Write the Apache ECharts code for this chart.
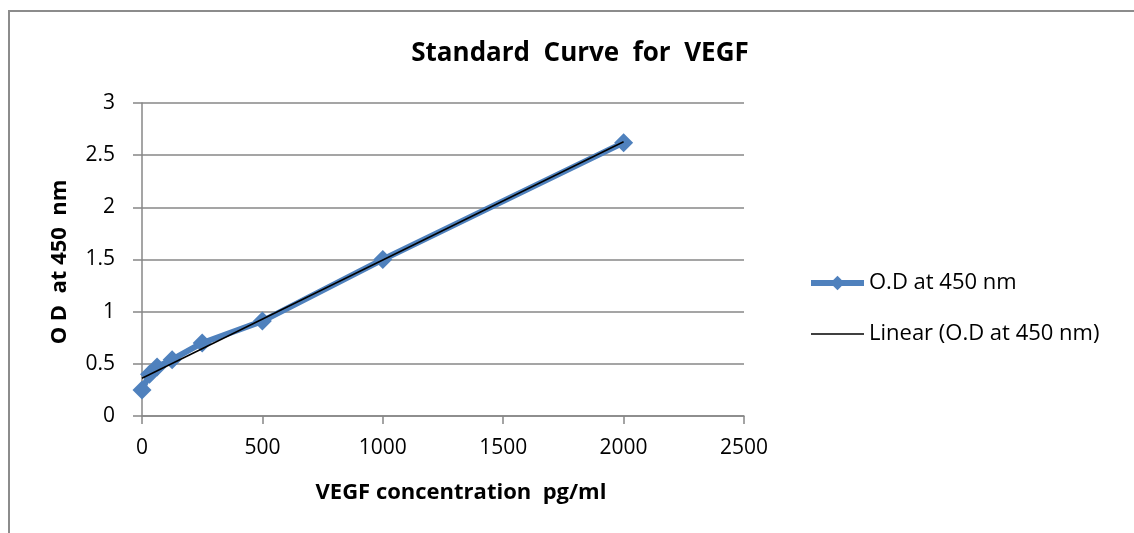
<!DOCTYPE html>
<html>
<head>
<meta charset="utf-8">
<script src="https://cdn.jsdelivr.net/npm/echarts@6/dist/echarts.min.js"></script>
<style>
  html, body { margin: 0; padding: 0; background: #fff; }
  #chart { width: 1134px; height: 533px; }
</style>
</head>
<body>
<div id="chart"></div>
<script>
// Standard concentrations (pg/ml) and measured optical density at 450 nm
const concentrations = [0, 31.25, 62.5, 125, 250, 500, 1000, 2000];
const odValues = [0.25, 0.40, 0.47, 0.54, 0.70, 0.91, 1.50, 2.62];

const chartTitle = 'Standard  Curve  for  VEGF';
const xTitle = 'VEGF concentration  pg/ml';
const yTitle = 'O D  at 450  nm';
const seriesName = 'O.D at 450 nm';
const trendName = 'Linear (O.D at 450 nm)';

// Least-squares fit for the linear trendline
function linearFit(xs, ys) {
  const n = xs.length;
  const mx = xs.reduce((a, b) => a + b, 0) / n;
  const my = ys.reduce((a, b) => a + b, 0) / n;
  let sxy = 0, sxx = 0;
  for (let i = 0; i < n; i++) {
    sxy += (xs[i] - mx) * (ys[i] - my);
    sxx += (xs[i] - mx) * (xs[i] - mx);
  }
  const slope = sxy / sxx;
  return { slope, intercept: my - slope * mx };
}
const fit = linearFit(concentrations, odValues);
const xMin = Math.min(...concentrations);
const xMax = Math.max(...concentrations);
const trendData = [xMin, xMax].map(x => [x, fit.intercept + fit.slope * x]);

const FONT = '"Open Sans", "Liberation Sans", sans-serif';
const GRID_COLOR = '#878787';
const BLUE = '#4F81BD';
const SERIES_WIDTH = 6;

const chart = echarts.init(document.getElementById('chart'), null, { renderer: 'canvas' });
chart.setOption({
  animation: false,
  backgroundColor: '#fff',
  textStyle: { fontFamily: FONT },
  title: {
    text: chartTitle,
    left: 575,
    top: 36,
    textAlign: 'center',
    textStyle: { fontFamily: FONT, fontSize: 26, fontWeight: 'bold', color: '#000' }
  },
  grid: { left: 142, top: 103, width: 602, height: 313 },
  legend: {
    orient: 'vertical',
    left: 803,
    top: 267,
    itemWidth: 53,
    itemHeight: 18,
    itemGap: 29,
    textStyle: { fontFamily: FONT, fontSize: 22, color: '#000' },
    data: [
      { name: seriesName, lineStyle: { width: SERIES_WIDTH, color: BLUE } },
      { name: trendName, itemStyle: { opacity: 0 }, lineStyle: { width: 1.5, color: '#000' } }
    ]
  },
  xAxis: {
    type: 'value',
    min: 0,
    max: 2500,
    interval: 500,
    axisLine: { show: true, lineStyle: { color: GRID_COLOR, width: 1.5 } },
    axisTick: { show: true, length: 8, lineStyle: { color: GRID_COLOR, width: 1.5 } },
    axisLabel: { margin: 22, fontSize: 21, color: '#000', fontFamily: FONT, formatter: v => String(v) },
    splitLine: { show: false }
  },
  yAxis: {
    type: 'value',
    min: 0,
    max: 3,
    interval: 0.5,
    axisLine: { show: true, lineStyle: { color: GRID_COLOR, width: 1.5 } },
    axisTick: { show: true, length: 9, lineStyle: { color: GRID_COLOR, width: 1.5 } },
    axisLabel: { margin: 27, fontSize: 21, color: '#000', fontFamily: FONT, formatter: v => String(v) },
    splitLine: { show: true, lineStyle: { color: GRID_COLOR, width: 1.5 } }
  },
  graphic: [
    {
      type: 'rect',
      silent: true,
      shape: { x: 9, y: 11, width: 1300, height: 700 },
      style: { fill: 'none', stroke: '#8c8c8c', lineWidth: 2 }
    },
    {
      type: 'text',
      silent: true,
      x: 461,
      y: 493,
      style: {
        text: xTitle,
        font: 'bold 22px ' + FONT,
        fill: '#000',
        align: 'center',
        verticalAlign: 'middle'
      }
    },
    {
      type: 'text',
      silent: true,
      x: 60,
      y: 262,
      rotation: Math.PI / 2,
      style: {
        text: yTitle,
        font: 'bold 22px ' + FONT,
        fill: '#000',
        align: 'center',
        verticalAlign: 'middle'
      }
    }
  ],
  series: [
    {
      name: seriesName,
      type: 'line',
      data: concentrations.map((x, i) => [x, odValues[i]]),
      symbol: 'diamond',
      symbolSize: 19,
      showAllSymbol: true,
      lineStyle: { color: BLUE, width: SERIES_WIDTH },
      itemStyle: { color: BLUE },
      emphasis: { disabled: true },
      z: 2
    },
    {
      name: trendName,
      type: 'line',
      data: trendData,
      symbol: 'none',
      lineStyle: { color: '#000', width: 1.5 },
      itemStyle: { color: '#000' },
      emphasis: { disabled: true },
      z: 3
    }
  ]
});
</script>
</body>
</html>
